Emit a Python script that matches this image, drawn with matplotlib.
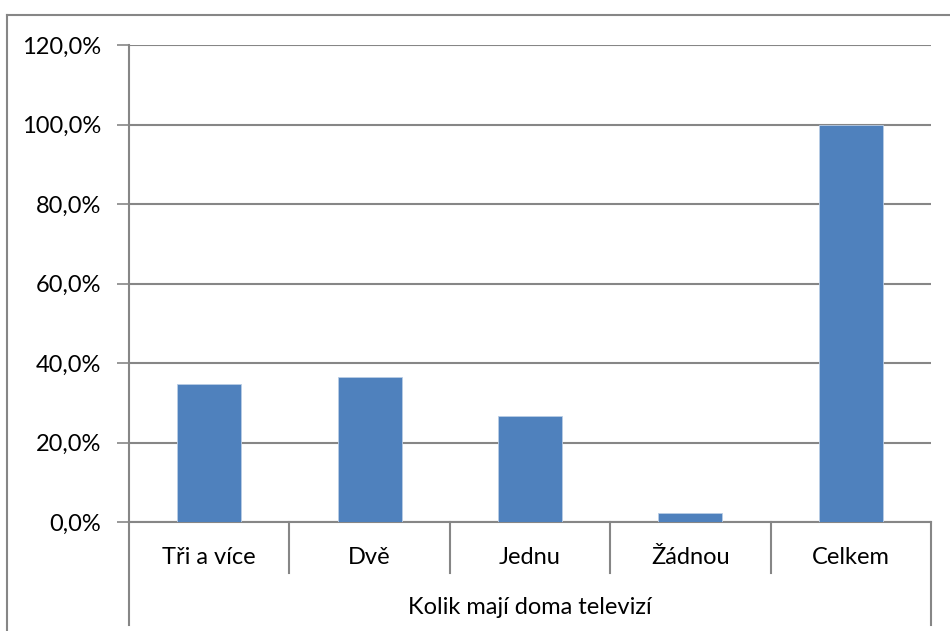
import matplotlib

matplotlib.use("Agg")
import matplotlib.pyplot as plt
from matplotlib.lines import Line2D
from matplotlib.ticker import FuncFormatter

categories = ["Tři a více", "Dvě", "Jednu", "Žádnou", "Celkem"]
values = [34.6, 36.5, 26.6, 2.3, 100.0]
group_label = "Kolik mají doma televizí"
yticks = [0, 20, 40, 60, 80, 100, 120]

BAR = "#4F81BD"
GRID = "#868686"
W, H = 950, 631
FS = 17

plt.rcParams["font.family"] = ["Lato", "DejaVu Sans"]

fig = plt.figure(figsize=(W / 100, H / 100), dpi=100)

# outer chart border (Excel chart area), cut by the picture edge
fig.add_artist(Line2D([7 / W, 7 / W], [0, 1 - 15 / H], color=GRID, lw=1.5))
fig.add_artist(Line2D([7 / W, 1], [1 - 15 / H, 1 - 15 / H], color=GRID, lw=1.5))

left, right, top, bottom = 129, 931, 45, 522
ax = fig.add_axes([left / W, 1 - bottom / H, (right - left) / W, (bottom - top) / H])

x = range(len(categories))
ax.bar(x, values, width=0.4, color=BAR, edgecolor="#B9CDE5", linewidth=0.6, zorder=3)

ax.set_xlim(-0.5, len(categories) - 0.5)
ax.set_ylim(0, 120)
ax.set_yticks(yticks)
ax.yaxis.set_major_formatter(FuncFormatter(lambda v, _: f"{v:.1f}%".replace(".", ",")))
ax.tick_params(axis="y", length=9, width=1.2, color=GRID, labelsize=FS, pad=11)
ax.set_xticks([])
ax.grid(axis="y", color=GRID, lw=1.5, zorder=0)

for s in ("top", "right"):
    ax.spines[s].set_visible(False)
for s in ("left", "bottom"):
    ax.spines[s].set_color(GRID)
    ax.spines[s].set_linewidth(1.5)

# two-level category axis
trans = ax.get_xaxis_transform()
h = bottom - top
sep_short = -(573 - bottom) / h
sep_long = -(625 - bottom) / h
for i in range(len(categories) + 1):
    end = sep_long if i in (0, len(categories)) else sep_short
    ax.plot([i - 0.5, i - 0.5], [0, end], transform=trans, color=GRID, lw=1.5,
            clip_on=False)
for i, c in enumerate(categories):
    ax.text(i, -(557 - bottom) / h, c, transform=trans, ha="center", va="center",
            fontsize=FS)
ax.text((len(categories) - 1) / 2, -(608 - bottom) / h, group_label, transform=trans,
        ha="center", va="center", fontsize=FS)

fig.savefig("out.png", dpi=100)
